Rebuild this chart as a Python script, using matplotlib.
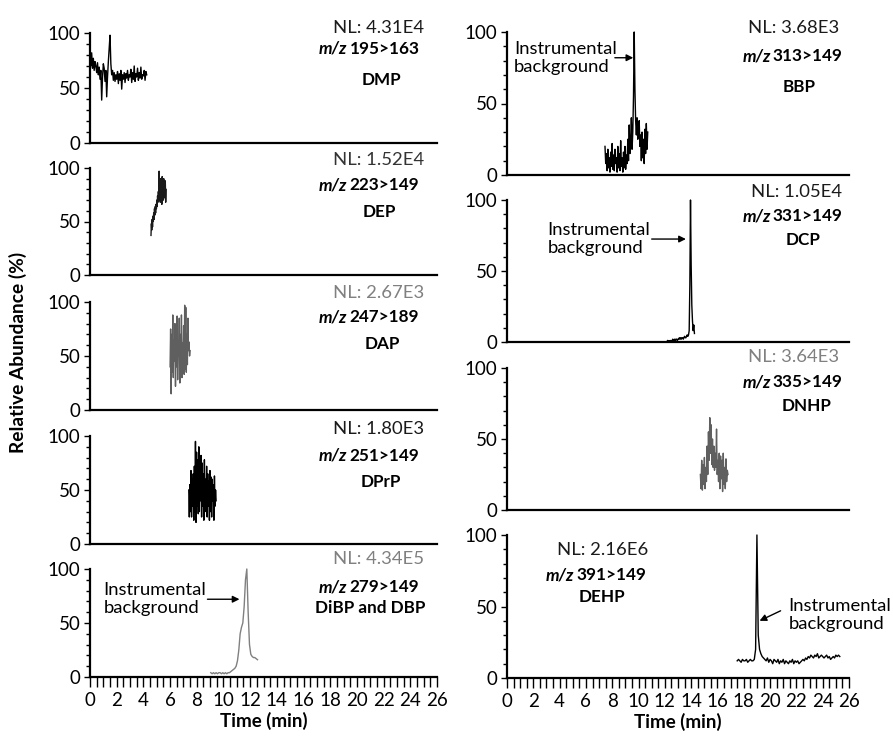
import numpy as np
import matplotlib
matplotlib.use("Agg")
import matplotlib.pyplot as plt
from matplotlib.ticker import MultipleLocator

plt.rcParams['font.family'] = ['Lato', 'DejaVu Sans']

# retention-time windows (min) and relative abundances (%) of each trace
dmp_t = (0.0, 4.25)
dmp = [90, 70, 82, 68, 77, 66, 74, 70, 64, 73,
       62, 69, 58, 66, 39, 60, 72, 68, 56, 66,
       42, 60, 74, 86, 98, 72, 62, 66, 57, 64,
       56, 62, 58, 65, 54, 63, 57, 66, 49, 62,
       58, 64, 55, 63, 59, 66, 57, 62, 60, 67,
       55, 64, 58, 70, 56, 63, 60, 68, 57, 64,
       59, 69, 58, 62, 61, 66, 57, 65, 62]

dep_t = (4.57, 5.7)
dep = [37, 48, 42, 52, 45, 55, 50, 58, 52, 62, 56, 64, 58, 66, 62, 70, 64, 74, 68, 78,
       70, 97, 72, 88, 68, 90, 75, 85, 66, 92, 74, 86, 70, 90, 78, 84, 72, 88, 68, 80]

dap_t = (6.0, 7.5)
dap = [40, 75, 15, 70, 35, 88, 30, 65, 45, 80, 22, 72, 40, 87, 28, 60, 50, 85, 25, 70,
       35, 88, 30, 62, 48, 78, 33, 97, 38, 95, 35, 70, 42, 85, 55, 63, 50, 55]

dprp_t = (7.4, 9.45)
dprp = [50, 25, 55, 30, 68, 25, 60, 35, 65, 22, 72, 30, 95, 20, 85, 35, 78, 28, 90, 30,
        70, 40, 82, 25, 75, 35, 65, 22, 78, 30, 60, 38, 72, 25, 65, 35, 58, 22, 68, 30,
        62, 25, 60, 40, 55, 22, 63, 35, 50, 40]

dbp_t = (9.05, 12.55)
dbp = [4, 3, 4, 3, 4, 3, 4, 4, 3, 4, 3, 4, 3, 4, 4, 5, 6, 7, 8, 10,
       15, 25, 40, 46, 50, 65, 90, 100, 60, 30, 21, 19, 18, 18, 17, 16]

bbp_t = (7.45, 10.7)
bbp = [20, 8, 15, 3, 18, 5, 12, 2, 16, 6, 22, 4, 14, 3, 18, 8, 12, 2, 20, 5,
       15, 3, 24, 6, 12, 2, 16, 5, 20, 4, 14, 8, 25, 10, 35, 15, 22, 40, 18, 30,
       55, 100, 60, 38, 28, 40, 25, 30, 38, 20, 28, 10, 30, 12, 25, 8, 32, 15, 36, 18, 30]

dcp_t = (12.2, 14.25)
dcp = [1, 0, 1, 0, 1, 1, 0, 1, 2, 1, 1, 2, 1, 2, 2, 1, 2, 2, 3, 2,
       3, 2, 3, 3, 2, 3, 4, 3, 3, 4, 5, 4, 5, 8, 40, 100, 55, 26, 15, 8, 12, 6]

dnhp_t = (14.7, 16.8)
dnhp = [25, 15, 35, 14, 32, 18, 37, 15, 30, 20, 45, 25, 55, 35, 65, 40, 60, 32, 50, 30,
        45, 28, 40, 30, 57, 25, 35, 20, 40, 15, 38, 22, 35, 13, 40, 18, 30, 15, 36, 20,
        28, 25]

dehp_t = (17.5, 25.3)
dehp = [12, 13, 12, 11, 13, 12, 12, 13, 11, 12, 13, 12, 12, 13,
        20, 100, 30, 20, 17, 15, 14,
        13, 12, 14, 11, 13, 12, 10, 13, 12, 11, 13, 10, 12, 11, 13, 10, 12, 11, 10,
        12, 11, 13, 10, 12, 11, 12, 10, 11, 12,
        13, 12, 14, 13, 15, 14, 16, 15, 14, 16, 15, 17, 14, 15, 16, 15, 14, 15, 16, 14,
        15, 13, 14, 15, 14, 16, 15, 16, 15]

nl_labels = ["NL: 4.31E4", "NL: 1.52E4", "NL: 2.67E3", "NL: 1.80E3", "NL: 4.34E5",
             "NL: 3.68E3", "NL: 1.05E4", "NL: 3.64E3", "NL: 2.16E6"]
transitions = ["195>163", "223>149", "247>189", "251>149", "279>149",
               "313>149", "331>149", "335>149", "391>149"]
compounds = ["DMP", "DEP", "DAP", "DPrP", "DiBP and DBP",
             "BBP", "DCP", "DNHP", "DEHP"]

traces = [(dmp_t, dmp), (dep_t, dep), (dap_t, dap), (dprp_t, dprp), (dbp_t, dbp),
          (bbp_t, bbp), (dcp_t, dcp), (dnhp_t, dnhp), (dehp_t, dehp)]
trace_colors = ["black", "#1a1a1a", "#5f5f5f", "black", "#808080",
                "black", "black", "#5f5f5f", "black"]
nl_colors = ["#1a1a1a", "#333333", "#808080", "#1a1a1a", "#808080",
             "#1a1a1a", "#1a1a1a", "#808080", "#1a1a1a"]

W, H = 893, 740
fig = plt.figure(figsize=(W / 100, H / 100), dpi=100)

# panel boxes in pixels: (left, right, top, bottom)
left_boxes = [(90, 437, 33, 143), (90, 437, 168, 275), (90, 437, 302, 410),
              (90, 437, 436, 544), (90, 437, 569, 677)]
right_boxes = [(507, 849, 32, 175), (507, 849, 200, 342), (507, 849, 368, 510),
               (507, 849, 535, 678)]
boxes = left_boxes + right_boxes

# text layout per panel: x centre, split x for m/z, y of NL, m/z, name lines
text_pos = [(21.6, 19.4, 104.5, 85.5, 57.3),
            (21.6, 19.4, 107.5, 84.0, 58.9),
            (21.6, 19.4, 108.3, 86.0, 61.0),
            (21.6, 19.4, 106.5, 81.5, 57.4),
            (21.6, 19.4, 109.0, 83.3, 63.9),
            (21.8, 20.15, 102.8, 83.2, 61.5),
            (22.0, 20.15, 105.6, 88.7, 71.8),
            (21.8, 20.15, 107.7, 90.0, 73.2),
            (7.3, 5.2, 89.5, 72.0, 56.6)]
name_x = [21.8, 21.7, 21.9, 21.8, 21.0, 22.2, 22.5, 22.8, 7.2]

# "Instrumental background" notes: panel, text x, text y, arrow tail, arrow tip
notes = [(4, 1.0, 72, (8.8, 72), (11.2, 72)),
         (5, 0.55, 82, (8.2, 82), (9.6, 82)),
         (6, 3.07, 72.5, (11.0, 72.5), (13.6, 72.5)),
         (8, 21.4, 44, (20.8, 47), (19.2, 40))]

FS_BOLD = 12.3
FS_REG = 13.3

axes = []
for i, (l, r, t, b) in enumerate(boxes):
    ax = fig.add_axes([l / W, 1 - b / H, (r - l) / W, (b - t) / H])
    axes.append(ax)
    (t0, t1), vals = traces[i]
    tt = np.linspace(t0, t1, len(vals))
    ax.plot(tt, vals, color=trace_colors[i], lw=1.0, clip_on=False)
    ax.set_xlim(0, 26)
    ax.set_ylim(0, 100)
    for s in ["top", "right"]:
        ax.spines[s].set_visible(False)
    for s in ["left", "bottom"]:
        ax.spines[s].set_linewidth(1.6)
    ax.set_yticks([0, 50, 100])
    ax.yaxis.set_minor_locator(MultipleLocator(10))
    ax.tick_params(axis='y', which='major', length=4, width=1, labelsize=13.5, pad=3)
    ax.tick_params(axis='y', which='minor', length=3, width=1)
    bottom_panel = i in (4, 8)
    if bottom_panel:
        ax.xaxis.set_major_locator(MultipleLocator(2))
        ax.xaxis.set_minor_locator(MultipleLocator(0.5))
        ax.tick_params(axis='x', which='major', length=7, width=1, labelsize=13.5, pad=4)
        ax.tick_params(axis='x', which='minor', length=7, width=1)
        ax.set_xlabel("Time (min)", fontsize=13.5, fontweight='bold', labelpad=2)
    else:
        ax.tick_params(axis='x', which='both', bottom=False, labelbottom=False)

    xc, xs, y_nl, y_mz, y_nm = text_pos[i]
    ax.text(xc, y_nl, nl_labels[i], ha='center', va='center', fontsize=FS_REG,
            color=nl_colors[i], clip_on=False)
    ax.annotate("m/z", xy=(xs, y_mz), xytext=(-1, 0), textcoords='offset points',
                ha='right', va='center', fontsize=FS_BOLD, fontweight='bold',
                fontstyle='italic', annotation_clip=False)
    ax.annotate(transitions[i], xy=(xs, y_mz), xytext=(0.5, 0), textcoords='offset points',
                ha='left', va='center', fontsize=FS_BOLD, fontweight='bold',
                annotation_clip=False)
    ax.text(name_x[i], y_nm, compounds[i], ha='center', va='center', fontsize=FS_BOLD,
            fontweight='bold', clip_on=False)

for k, tx, ty, tail, tip in notes:
    ax = axes[k]
    ax.text(tx, ty, "Instrumental\nbackground", ha='left', va='center', fontsize=FS_REG,
            linespacing=1.15, clip_on=False)
    ax.annotate("", xy=tip, xytext=tail,
                arrowprops=dict(arrowstyle='-|>', color='black', lw=1,
                                mutation_scale=10, shrinkA=0, shrinkB=0),
                annotation_clip=False)

fig.text(18 / W, 1 - 352 / H, "Relative Abundance (%)", rotation=90, ha='center',
         va='center', fontsize=13.8, fontweight='bold')

fig.savefig("out.png", dpi=100)
